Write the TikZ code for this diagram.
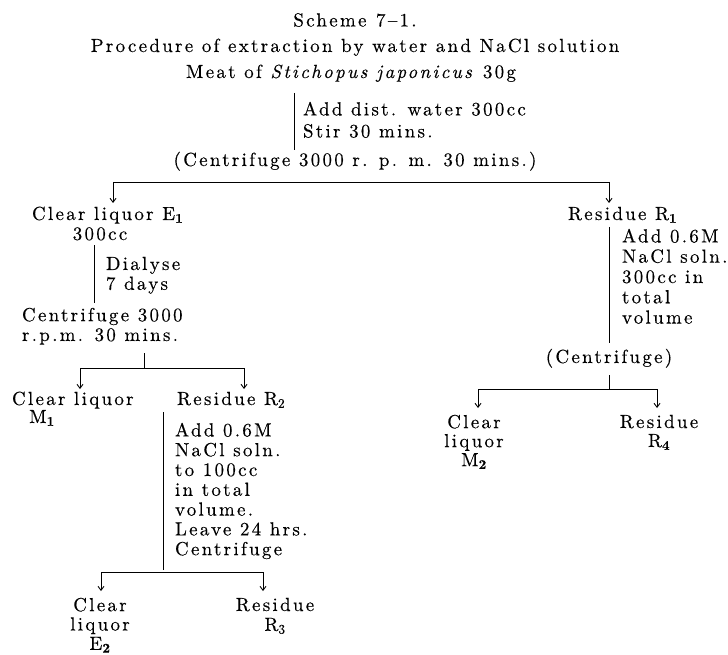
\documentclass[tikz,border=0pt]{standalone}
\usepackage{fontspec}
\setmainfont{lmroman10-regular.otf}[BoldFont=lmroman10-bold.otf,ItalicFont=lmroman10-italic.otf,LetterSpace=12,FakeBold=0.3]
\usetikzlibrary{arrows.meta}
\begin{document}
\begin{tikzpicture}[x=1pt,y=-1pt,
  every node/.style={inner sep=0pt,outer sep=0pt,font=\fontsize{19}{19.8}\selectfont},
  lbl/.style={anchor=base west},
  ctr/.style={anchor=base},
  blk/.style={anchor=north west,align=left},
  cblk/.style={anchor=north,align=center},
  ln/.style={line width=0.9pt},
  arr/.style={line width=0.9pt,-{Straight Barb[length=4pt,width=6pt]}}]
\useasboundingbox (0,0) rectangle (728,655);

% ---------- top ----------
\node[ctr] (title) at (355,26.5) {Scheme\hspace{0.5em}7–1.};
\node[ctr] (proc) at (355,52) {Procedure of extraction by water and NaCl solution};
\node[ctr] (meat) at (351,78) {Meat of \textit{Stichopus japonicus} 30g};
\coordinate (v1t) at (294,93);
\coordinate (v1b) at (294,150);
\draw[ln] (v1t) -- (v1b);
\node[blk,font=\fontsize{19}{22}\selectfont] (step1) at (303,101.8) {Add dist. water 300cc\\Stir 30 mins.};
\node[ctr] (cent1) at (355,166) {(Centrifuge 3000 r. p. m. 30 mins.)};
\coordinate (b1l) at (113,182);
\coordinate (b1r) at (609,182);
\draw[ln] (b1l) -- (b1r);
\coordinate (a1l) at (113,203);
\coordinate (a1r) at (609,203);
\draw[arr] (b1l) -- (a1l);
\draw[arr] (b1r) -- (a1r);

% ---------- left branch ----------
\node[lbl] (e1) at (32,220) {Clear liquor E\textsubscript{\bfseries 1}};
\node[ctr] (e1v) at (100,240) {300cc};
\coordinate (v2t) at (94,245);
\coordinate (v2b) at (94,303);
\draw[ln] (v2t) -- (v2b);
\node[blk] (dial) at (106,256.8) {Dialyse\\7 days};
\node[blk] (cent2) at (22,307.8) {Centrifuge 3000\\r.p.m. 30 mins.};
\coordinate (v3t) at (144,353);
\coordinate (v3b) at (144,368);
\draw[ln] (v3t) -- (v3b);
\coordinate (b2l) at (80,368);
\coordinate (b2r) at (244,368);
\draw[ln] (b2l) -- (b2r);
\coordinate (a2l) at (80,389);
\coordinate (a2r) at (244,389);
\draw[arr] (b2l) -- (a2l);
\draw[arr] (b2r) -- (a2r);
\node[lbl] (m1a) at (12,405) {Clear liquor};
\node[ctr] (m1b) at (42,423) {M\textsubscript{\bfseries 1}};
\node[lbl] (r2) at (177,405) {Residue R\textsubscript{2}};
\coordinate (v4t) at (163,412);
\coordinate (v4b) at (163,570);
\draw[ln] (v4t) -- (v4b);
\node[blk] (step3) at (175,422.8) {Add 0.6M\\NaCl soln.\\to 100cc\\in total\\volume.\\Leave 24 hrs.\\Centrifuge};
\coordinate (b3l) at (101,572);
\coordinate (b3r) at (263,572);
\draw[ln] (b3l) -- (b3r);
\coordinate (a3l) at (101,591);
\coordinate (a3r) at (263,591);
\draw[arr] (b3l) -- (a3l);
\draw[arr] (b3r) -- (a3r);
\node[cblk,font=\fontsize{19}{19.3}\selectfont] (e2) at (100,597.8) {Clear\\liquor\\E\textsubscript{\bfseries 2}};
\node[cblk] (r3) at (275,597.8) {Residue\\R\textsubscript{3}};

% ---------- right branch ----------
\node[lbl] (r1) at (568,220) {Residue R\textsubscript{\bfseries 1}};
\coordinate (v5t) at (609,227);
\coordinate (v5b) at (609,343);
\draw[ln] (v5t) -- (v5b);
\node[blk,font=\fontsize{19}{20.3}\selectfont] (step2) at (622,228.8) {Add 0.6M\\NaCl soln.\\300cc in\\total\\volume};
\node[ctr] (cent3) at (609,363) {(Centrifuge)};
\coordinate (v6t) at (609,375);
\coordinate (v6b) at (609,389);
\draw[ln] (v6t) -- (v6b);
\coordinate (b4l) at (478,389);
\coordinate (b4r) at (657,389);
\draw[ln] (b4l) -- (b4r);
\coordinate (a4l) at (478,408);
\coordinate (a4r) at (657,408);
\draw[arr] (b4l) -- (a4l);
\draw[arr] (b4r) -- (a4r);
\node[cblk,font=\fontsize{19}{19}\selectfont] (m2) at (474,414.8) {Clear\\liquor\\M\textsubscript{\bfseries 2}};
\node[cblk,font=\fontsize{19}{19}\selectfont] (r4) at (659,414.8) {Residue\\R\textsubscript{\bfseries 4}};
\end{tikzpicture}
\end{document}
